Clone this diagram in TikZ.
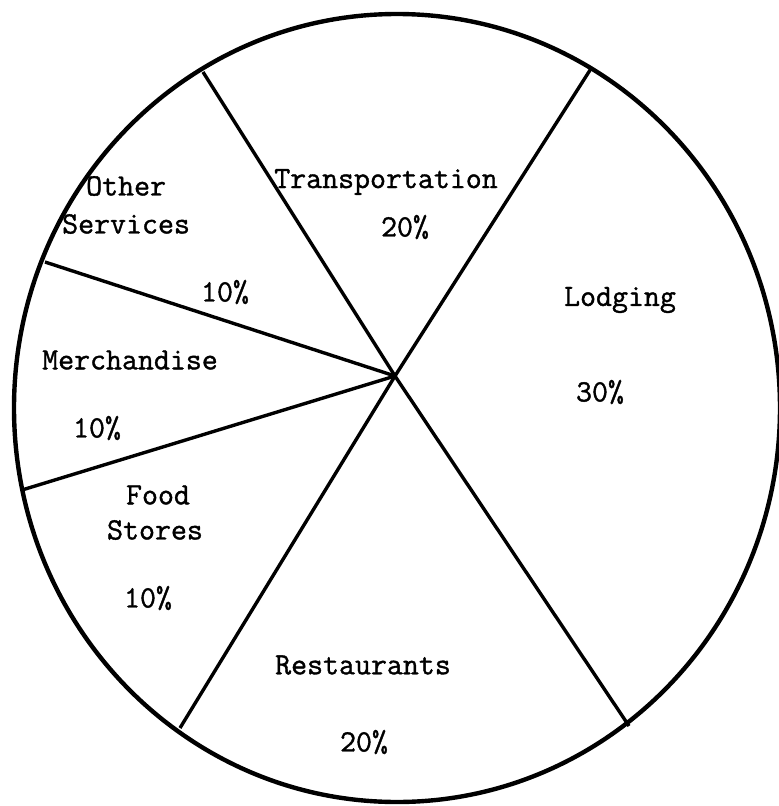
\documentclass[tikz,border=0pt]{standalone}
\usepackage{fontspec}
\usepackage{tikz}
\newfontfamily\typer[FakeBold=1.2]{Latin Modern Mono}

\begin{document}
\begin{tikzpicture}[x=1pt, y=-1pt]

% Define label and rim line styles
\tikzstyle{slice} =[font=\typer\fontsize{31}{36}\selectfont,
                    inner sep=0pt]
\tikzstyle{rim}   =[line width=4.4pt]
\tikzstyle{spoke} =[line width=3.4pt]

\useasboundingbox (0,0) rectangle (779,806);
\fill[white] (0,0) rectangle (779,806);

% outer circle
\draw[rim] (397,408) ellipse [x radius=383, y radius=394];

% hub and rim points between the slices
\coordinate (hub)   at (395,376);
\coordinate (transO) at (203,72);
\coordinate (transL) at (592,67);
\coordinate (otherM) at (45,262);
\coordinate (merchF) at (22,490);
\coordinate (foodR)  at (180,728);
\coordinate (restL)  at (629,726);

\foreach \p in {transO,transL,otherM,merchF,foodR,restL}{
  \draw[spoke] (hub) -- (\p);
}

% slice labels
\node[slice] (transport) at (386,182) {Transportation};
\node[slice] (transportP) at (405,227) {20\%};

\node[slice, anchor=west] (other) at (86,186) {Other};
\node[slice, anchor=west] (services) at (62,224) {Services};
\node[slice] (otherP) at (225,292) {10\%};

\node[slice] (merch) at (130,360) {Merchandise};
\node[slice] (merchP) at (97,428) {10\%};

\node[slice] (food) at (158,495) {Food};
\node[slice] (stores) at (155,530) {Stores};
\node[slice] (foodP) at (148,598) {10\%};

\node[slice] (rest) at (363,665) {Restaurants};
\node[slice] (restP) at (364,742) {20\%};

\node[slice] (lodging) at (620,300) {Lodging};
\node[slice] (lodgingP) at (600,392) {30\%};

\end{tikzpicture}
\end{document}
